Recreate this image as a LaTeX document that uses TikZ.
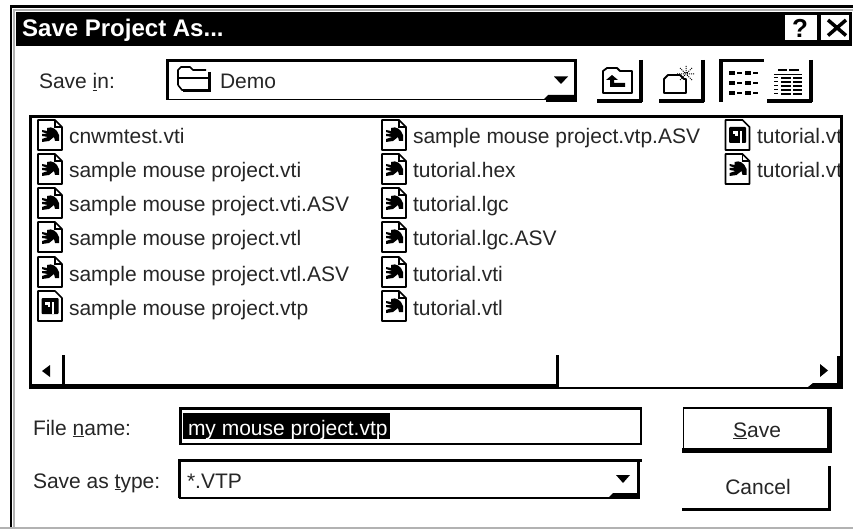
\documentclass[tikz,border=0pt]{standalone}
\usepackage{fontspec}
\setmainfont{Liberation Sans}
\newcommand{\ul}[1]{\underline{#1}}
\tikzset{
 lbl/.style={anchor=base west,inner sep=0pt,outer sep=0pt,font=\fontsize{21}{24}\selectfont,text=black!85},
 btntext/.style={anchor=base,inner sep=0pt,outer sep=0pt,font=\fontsize{21}{24}\selectfont,text=black!85},
 pics/mouseicon/.style={code={
  \draw[line width=1.7pt,fill=white,line join=round] (-12,-15)--(5,-15)--(12,-8)--(12,15)--(-12,15)--cycle;
  \draw[line width=1.2pt] (5,-15)--(5,-8)--(12,-8);
  \fill (-3,-7) .. controls (2,-9) and (7,-6) .. (9,0) -- (9,6) -- (5,6) -- (4,2) -- (-1,6) -- (-8,7) -- (-8,4) -- (-2,2) -- (-8,1) -- (-8,-1) -- (-2,-1) -- (-8,-3) -- (-8,-5) -- (-3,-4) -- cycle;
 }},
 pics/projicon/.style={code={
  \draw[line width=1.7pt,fill=white,line join=round] (-12,-15)--(5,-15)--(12,-8)--(12,15)--(-12,15)--cycle;
  \fill[rounded corners=1pt] (-8.5,-8) rectangle (8.5,8);
  \fill[white] (-5,-4) rectangle (0,-1);
  \fill[white] (-2.5,-4) rectangle (0,1);
  \fill[white] (2,-4) rectangle (4,8);
 }},
}
\begin{document}
\begin{tikzpicture}[x=1pt,y=-1pt]
\useasboundingbox (0,0) rectangle (853,529);
\fill[white] (0,0) rectangle (853,529);
% frame
\draw[line width=2.2pt] (11,529)--(11,6.5)--(853,6.5);
\draw[gray!60,line width=1.5pt] (14,529)--(14,10)--(853,10);
\draw[gray!60,line width=1.5pt] (0,528)--(853,528);
% title bar
\fill (16,12) rectangle (852,46.5);
\node[anchor=base west,inner sep=0pt,text=white,font=\bfseries\fontsize{24}{28}\selectfont] (title) at (22,37) {Save Project As...};
% title buttons
\fill[white] (785,15) rectangle (817,40);
\fill[white] (821,15) rectangle (849,40);
\node[anchor=center,inner sep=0pt,font=\bfseries\fontsize{26}{28}\selectfont] (help) at (800,28) {?};
\draw[line width=3.5pt] (828,20)--(846,35.5) (846,20)--(828,35.5);
% save in row
\node[lbl] (savein) at (39,89) {Save \ul{i}n:};
\draw[line width=3pt] (167.5,100)--(167.5,60.5)--(577,60.5);
\draw[line width=1.4pt] (167,99.5)--(544,99.5);
\draw[line width=3.5pt] (575.5,60)--(575.5,100.5)--(546,100.5);
\fill (543,100) -- (548,95) -- (574,95) -- (574,100) -- cycle;
\node[lbl] (demo) at (220,89) {Demo};
% folder icon
\draw[line width=1.6pt,line join=round] (178,85)--(178,70)--(181,67)--(190,67)--(193,70)--(206,70) (178,78)--(209,78)--(209,90)--(182,90)--(178,85);
\draw[line width=3pt] (209,72)--(209,91)--(183,91);
\fill (554,76.5) -- (568,76.5) -- (561,84) -- cycle;
% up-folder button
\draw[line width=3.5pt] (597,101)--(642,101);
\draw[line width=3.5pt] (641,60)--(641,102.5);
\draw[line width=1.8pt,line join=round] (603,93)--(603,71)--(607,68)--(617,68)--(620,71)--(632,71)--(632,93)--cycle;
\fill (612,75)--(618,80)--(614,80)--(614,83)--(625,83)--(625,87)--(610,87)--(610,80)--(606,80)--cycle;
% new-folder button
\draw[line width=3.5pt] (659,101)--(704,101);
\draw[line width=3.5pt] (703,60)--(703,102.5);
\draw[line width=1.8pt,line join=round] (664,93)--(664,79)--(668,75)--(680,75)--(684,79)--(686,79)--(686,93)--cycle;
\draw[line width=1pt,densely dotted] (686,66)--(686,74) (677,74)--(695,74) (680,68)--(692,80) (692,68)--(680,80);
% list button
\draw[line width=3.5pt] (721,102)--(721,60.5)--(764,60.5);
\foreach \yy in {73,83,93}{
 \fill (729,\yy-2) rectangle (735,\yy+2);
 \fill (737,\yy-1) rectangle (742,\yy+1);
 \fill (745,\yy-2) rectangle (751,\yy+2);
 \fill (753,\yy-1) rectangle (758,\yy+1);
}
% details button
\draw[line width=3.5pt] (767,101)--(812,101);
\draw[line width=3.5pt] (811,60)--(811,102.5);
\fill (778,69) rectangle (787,71);
\fill (789,69) rectangle (799,71);
\fill (774,74) rectangle (802,75.5);
\foreach \yy in {77,81,85,89,93}{
 \fill (781,\yy) rectangle (791,\yy+2);
 \fill (793,\yy) rectangle (802,\yy+2);
 \fill (774,\yy) rectangle (778,\yy+1.5);
}
% file list
\draw[line width=3pt] (30.5,389)--(30.5,116.5)--(842,116.5);
\draw[line width=3pt] (841.5,115)--(841.5,389);
\draw[line width=1.6pt] (29,388)--(843,388);
\begin{scope}
\clip (33,118) rectangle (839,384);
\foreach \yy/\nm/\ty in {137/a/cnwmtest.vti,171/b/sample mouse project.vti,205/c/sample mouse project.vti.ASV,239/d/sample mouse project.vtl,274/e/sample mouse project.vtl.ASV}{
 \pic at (50,\yy-2) {mouseicon};
 \node[lbl] (c1\nm) at (69,\yy+7) {\ty};
}
\pic at (50,306) {projicon};
\node[lbl] (c1f) at (69,315) {sample mouse project.vtp};
\pic at (394,135) {mouseicon};
\node[lbl] (c2a) at (413,144) {sample mouse project.vtp.ASV};
\foreach \yy/\nm/\ty in {171/b/tutorial.hex,205/c/tutorial.lgc,239/d/tutorial.lgc.ASV,274/e/tutorial.vti,308/f/tutorial.vtl}{
 \pic at (394,\yy-2) {mouseicon};
 \node[lbl] (c2\nm) at (413,\yy+7) {\ty};
}
\pic at (737.5,135) {projicon};
\node[lbl] (c3a) at (757,144) {tutorial.vt};
\pic at (737.5,169) {mouseicon};
\node[lbl] (c3b) at (757,178) {tutorial.vt};
\end{scope}
% scrollbar
\draw[line width=3.5pt] (31,385.5)--(558,385.5);
\draw[line width=3pt] (63,355)--(63,387);
\draw[line width=3pt] (557,355)--(557,387);
\fill (42,371)--(50,365)--(50,377)--cycle;
\fill (808,387)--(813,383)--(841,383)--(841,388)--cycle;
\draw[line width=3pt] (838.5,356)--(838.5,386);
\fill (820,364)--(828,370.5)--(820,377)--cycle;
% file name
\node[lbl] (fname) at (33,435) {File \ul{n}ame:};
\draw[line width=3pt] (180,445)--(180,408.5)--(642,408.5);
\draw[line width=1.6pt] (181,444)--(641,444)--(641,408);
\fill (183,413) rectangle (390,439);
\node[lbl,text=white] (fval) at (188,435) {my mouse project.vtp};
% save as type
\node[lbl] (ftype) at (33,488) {Save as \ul{t}ype:};
\draw[line width=3pt] (179.5,498)--(179.5,460.5)--(642,460.5);
\draw[line width=1.6pt] (179,498)--(640,498);
\draw[line width=3pt] (638.5,461)--(638.5,498);
\fill (608,498)--(613,493)--(638,493)--(638,498)--cycle;
\node[lbl] (tval) at (187,488) {*.VTP};
\fill (616,475)--(630,475)--(623,483)--cycle;
% save button
\draw[line width=2pt] (683,408)--(831,408);
\draw[line width=4.5pt] (829.5,407)--(829.5,453);
\draw[line width=4.5pt] (682,450.5)--(831,450.5);
\draw[line width=1.8pt] (683.5,407)--(683.5,451);
\node[btntext] (save) at (757,437) {\ul{S}ave};
% cancel button
\draw[line width=3pt] (682,509.5)--(831,509.5);
\draw[line width=3pt] (829.5,466)--(829.5,511);
\node[btntext] (cancel) at (758,494) {Cancel};
\end{tikzpicture}
\end{document}
